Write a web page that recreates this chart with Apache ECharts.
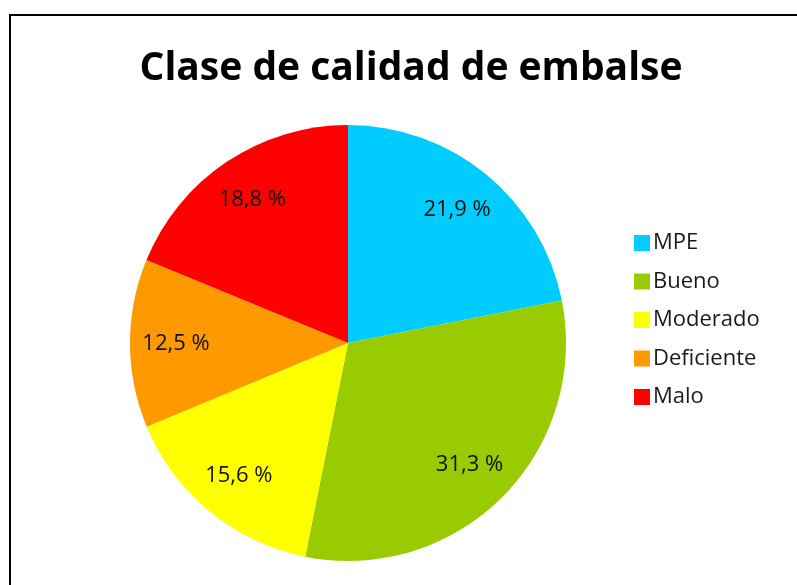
<!DOCTYPE html>
<html>
<head>
<meta charset="utf-8">
<script src="https://cdn.jsdelivr.net/npm/echarts@6/dist/echarts.min.js"></script>
<style>
  html, body { margin: 0; padding: 0; background: #fff; }
  .frame {
    position: absolute;
    left: 9px;
    top: 14px;
    width: 800px;
    height: 600px;
    border: 2px solid #000;
  }
  #chart {
    position: absolute;
    left: 0;
    top: 0;
    width: 797px;
    height: 585px;
  }
</style>
</head>
<body>
<div class="frame"></div>
<div id="chart"></div>
<script>
const categories = ['MPE', 'Bueno', 'Moderado', 'Deficiente', 'Malo']
const shares = [21.9, 31.3, 15.6, 12.5, 18.8]
const colors = ['#00CCFF', '#99CC00', '#FFFF00', '#FF9900', '#FF0000']

const pieData = categories.map((name, i) => ({
  name,
  value: shares[i],
  itemStyle: { color: colors[i] },
}))

const fmt = p => p.value.toFixed(1).replace('.', ',') + ' %'

const option = {
  animation: false,
  title: {
    text: 'Clase de calidad de embalse',
    left: 406,
    top: 44,
    textAlign: 'center',
    textStyle: {
      fontFamily: 'Open Sans',
      fontWeight: 'bold',
      fontSize: 39,
      color: '#000',
    },
  },
  legend: {
    orient: 'vertical',
    left: 629,
    top: 227,
    itemWidth: 16,
    itemHeight: 16,
    itemGap: 16.5,
    icon: 'rect',
    data: categories,
    textStyle: {
      fontFamily: 'Open Sans',
      fontSize: 22,
      lineHeight: 22,
      color: '#1a1a1a',
      padding: [0, 0, 0, -2],
    },
  },
  series: [
    {
      // visible slices
      type: 'pie',
      center: [348, 343],
      radius: [0, 218],
      startAngle: 90,
      clockwise: true,
      label: { show: false },
      labelLine: { show: false },
      emphasis: { disabled: true },
      data: pieData,
    },
    {
      // transparent ring only used to place the labels farther out
      type: 'pie',
      silent: true,
      center: [348, 343],
      radius: [120, 218],
      startAngle: 90,
      clockwise: true,
      itemStyle: { color: 'rgba(0,0,0,0)' },
      label: {
        show: true,
        position: 'inside',
        formatter: fmt,
        fontFamily: 'Open Sans',
        fontSize: 22,
        color: '#111',
      },
      labelLine: { show: false },
      emphasis: { disabled: true },
      data: categories.map((name, i) => ({ name, value: shares[i] })),
    },
  ],
}

const myChart = echarts.init(document.getElementById('chart'))
myChart.setOption(option)
</script>
</body>
</html>
